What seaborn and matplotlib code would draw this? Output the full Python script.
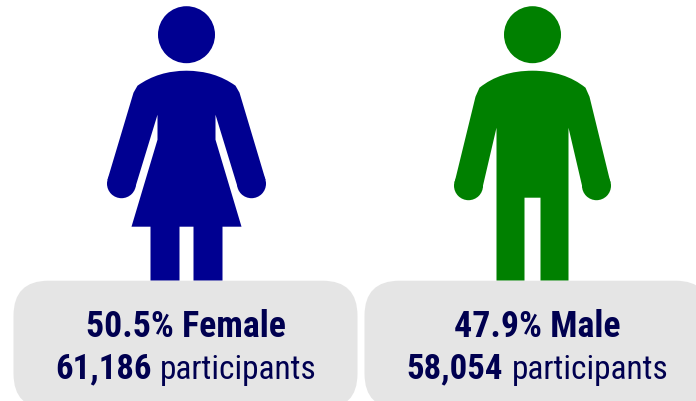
import matplotlib.pyplot as plt
import seaborn as sns
from matplotlib.patches import Circle, FancyBboxPatch, PathPatch
from matplotlib.path import Path

# Values
labels = ['Female', 'Male']
percents = [50.5, 47.9]
participants = [61186, 58054]
colors = ['#000091', '#008000']

BOX_GREY = '#E5E5E5'
TEXT_NAVY = '#000050'

sns.set_theme(style='white')
plt.rcParams['font.family'] = ['Roboto Condensed', 'DejaVu Sans']

fig = plt.figure(figsize=(6.96, 4.02), dpi=100)
ax = fig.add_axes([0, 0, 1, 1])
ax.set_xlim(-0.5, 695.5)
ax.set_ylim(401.3, -0.7)
ax.axis('off')


def figure_shape(cx, outline, color):
    # outline is the right half, first three points are the shoulder curve
    verts = [(cx + dx, y) for dx, y in outline] + [(cx - dx, y) for dx, y in reversed(outline[:-1])]
    codes = [Path.LINETO] * len(verts)
    codes[0] = Path.MOVETO
    codes[1] = codes[2] = Path.CURVE3
    codes[-1] = codes[-2] = Path.CURVE3
    ax.add_patch(PathPatch(Path(verts, codes), fc=color, ec='none', lw=0))


# half outlines of the pictograms, offsets from the centre line
female_outline = [(0, 71), (28, 71), (49, 86), (53, 93), (79, 180), (51, 187), (29, 115),
                  (29, 140), (55, 227), (36, 227), (36, 281), (7, 281), (7, 227), (0, 227)]
male_outline = [(0, 71), (32, 71), (53, 88), (57, 97), (78, 183), (50, 188), (36, 128),
                (36, 281), (8, 281), (8, 198), (0, 198)]

centers = [186, 532]
outlines = [female_outline, male_outline]
hands = [(65, 184), (64, 186)]
boxes = [(13, 344), (364, 346)]

for i in range(2):
    cx = centers[i]
    figure_shape(cx, outlines[i], colors[i])
    ax.add_patch(Circle((cx, 35), 28.5, fc=colors[i], ec='none'))
    for sign in (-1, 1):
        ax.add_patch(Circle((cx + sign * hands[i][0], hands[i][1]), 14.5, fc=colors[i], ec='none'))

    x0, w = boxes[i]
    ax.add_patch(FancyBboxPatch((x0 + 35, 281 + 35), w - 70, 128 - 70,
                                boxstyle='round,pad=35,rounding_size=35',
                                fc=BOX_GREY, ec='none', zorder=3))

    ax.text(x0 + w / 2, 336, f'{percents[i]}% {labels[i]}', ha='center', va='baseline',
            fontsize=25.8, fontweight='bold', color=TEXT_NAVY, zorder=4)

    # second line mixes bold and regular, so measure both pieces and centre them together
    bold = ax.text(0, 378, f'{participants[i]:,}', ha='left', va='baseline',
                   fontsize=25, fontweight='bold', color=TEXT_NAVY, zorder=4)
    rest = ax.text(0, 378, 'participants', ha='left', va='baseline',
                   fontsize=24, color=TEXT_NAVY, zorder=4)
    rend = fig.canvas.get_renderer()
    w1 = bold.get_window_extent(rend).width
    w2 = rest.get_window_extent(rend).width
    gap = 8
    left = x0 + w / 2 - (w1 + gap + w2) / 2
    bold.set_x(left)
    rest.set_x(left + w1 + gap)

plt.savefig('out.png', dpi=100)
